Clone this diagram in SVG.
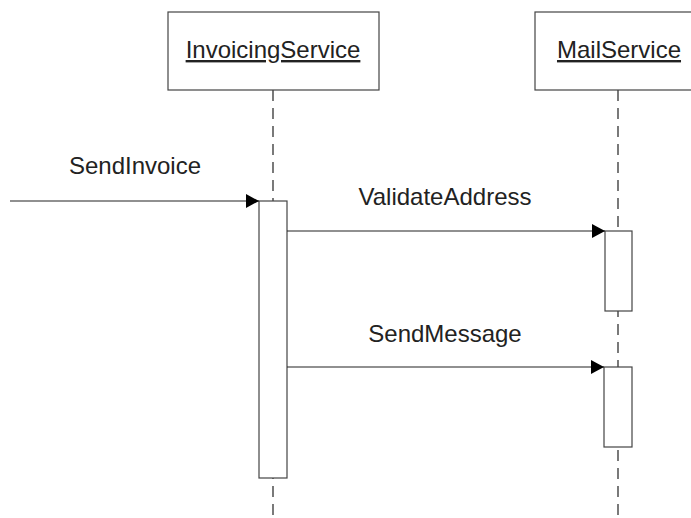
<svg xmlns="http://www.w3.org/2000/svg" width="691" height="518" viewBox="0 0 691 518">
<style>
.box{fill:#fff;stroke:#444;stroke-width:1.2}
.life{stroke:#333;stroke-width:1.3;stroke-dasharray:11 7;fill:none}
.msg{stroke:#222;stroke-width:1.2;fill:none;marker-end:url(#arr)}
text{font-family:"Liberation Sans",Arial,sans-serif;font-size:24px;fill:#222}
.hdr{text-decoration:underline;text-anchor:middle}
.lbl{text-anchor:middle}
</style>
<defs>
<marker id="arr" markerWidth="14" markerHeight="14" refX="13" refY="7" orient="auto" markerUnits="userSpaceOnUse">
<path d="M0,0 L13,7 L0,14 Z" fill="#000"/>
</marker>
</defs>
<g id="invoicing">
<line class="life" x1="273" y1="90" x2="273" y2="518"/>
<rect class="box" x="168" y="12" width="211" height="78"/>
<text class="hdr" x="273" y="58">InvoicingService</text>
<rect class="box" x="259" y="201" width="28" height="277"/>
</g>
<g id="mail">
<line class="life" x1="618" y1="90" x2="618" y2="518"/>
<rect class="box" x="535" y="12" width="168" height="78"/>
<text class="hdr" x="619" y="58">MailService</text>
<rect class="box" x="605" y="231" width="27" height="80"/>
<rect class="box" x="604" y="367" width="28" height="80"/>
</g>
<g id="connectors">
<line class="msg" x1="10" y1="201" x2="259" y2="201"/>
<text class="lbl" x="135" y="174">SendInvoice</text>
<line class="msg" x1="287" y1="231" x2="605" y2="231"/>
<text class="lbl" x="445" y="205">ValidateAddress</text>
<line class="msg" x1="287" y1="367" x2="604" y2="367"/>
<text class="lbl" x="445" y="342">SendMessage</text>
</g>
</svg>
